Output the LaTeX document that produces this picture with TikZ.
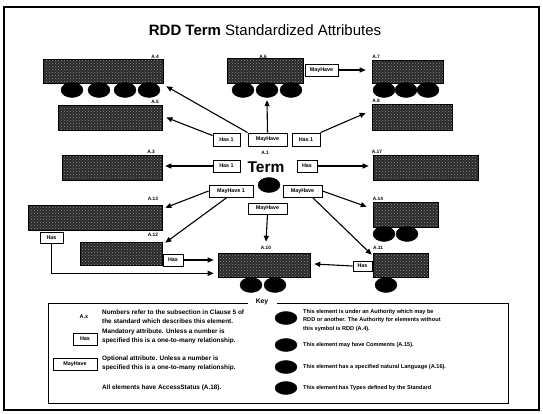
\documentclass[tikz,border=0pt]{standalone}
\usepackage{fontspec}
\setmainfont{Liberation Sans}
\usetikzlibrary{shapes.geometric,arrows.meta,calc,patterns}
\begin{document}
\begin{tikzpicture}[x=1pt,y=-1pt,
  dbox/.style={draw=black, line width=0.6pt, preaction={fill=black!84}, pattern=crosshatch dots, pattern color=black!45, inner sep=0pt},
  ell/.style={ellipse, fill=black, draw=black, inner sep=0pt, minimum width=22pt, minimum height=15pt},
  lbl/.style={draw=black, fill=white, line width=0.9pt, font=\bfseries\fontsize{5.4}{6}\selectfont, inner sep=0pt, minimum height=12pt},
  alab/.style={font=\bfseries\fontsize{4.8}{5}\selectfont, inner sep=0pt},
  arr/.style={-{Triangle[length=6pt,width=5pt]}, line width=1.1pt},
  keytxt/.style={font=\bfseries\fontsize{6.4}{9}\selectfont, inner sep=0pt, align=left, anchor=north west},
  keytxtr/.style={font=\bfseries\fontsize{5.6}{8.6}\selectfont, inner sep=0pt, align=left, anchor=north west}
]
\useasboundingbox (0,0) rectangle (543,413);
\draw[line width=1.3pt] (4,7) rectangle (539,410);

% title
\node[font=\fontsize{15}{17}\selectfont] (title) at (265,30) {\textbf{RDD Term} Standardized Attributes};

% dark element boxes
\node[dbox, minimum width=120pt, minimum height=24pt] (a4) at (103,71) {};
\node[dbox, minimum width=76pt, minimum height=25pt] (a6) at (265,70.5) {};
\node[dbox, minimum width=71pt, minimum height=23pt] (a7) at (407.5,71.5) {};
\node[dbox, minimum width=104pt, minimum height=25pt] (a5) at (110,117.5) {};
\node[dbox, minimum width=80pt, minimum height=26pt] (a8) at (412,117) {};
\node[dbox, minimum width=100pt, minimum height=25pt] (a3) at (112,167.5) {};
\node[dbox, minimum width=105pt, minimum height=25pt] (a17) at (425.5,167.5) {};
\node[dbox, minimum width=134pt, minimum height=25pt] (a13) at (95,217.5) {};
\node[dbox, minimum width=65pt, minimum height=25pt] (a14) at (405.5,214.5) {};
\node[dbox, minimum width=82pt, minimum height=23pt] (a12) at (121,253.5) {};
\node[dbox, minimum width=92pt, minimum height=24pt] (a10) at (264,265) {};
\node[dbox, minimum width=55pt, minimum height=24pt] (a11) at (400.5,265) {};

% ellipses
\node[ell] (a4e1) at (72,90) {};
\node[ell] (a4e2) at (99,90) {};
\node[ell] (a4e3) at (125,90) {};
\node[ell] (a4e4) at (149,90) {};
\node[ell] (a6e1) at (243,90) {};
\node[ell] (a6e2) at (267,90) {};
\node[ell] (a6e3) at (291,90) {};
\node[ell] (a7e1) at (384,90) {};
\node[ell] (a7e2) at (406,90) {};
\node[ell] (a7e3) at (428,90) {};
\node[ell] (a1e) at (269,185) {};
\node[ell] (a14e1) at (384,234) {};
\node[ell] (a14e2) at (407,234) {};
\node[ell] (a10e1) at (251,285) {};
\node[ell] (a10e2) at (275,285) {};
\node[ell] (a11e) at (386,285) {};

% A.x labels
\node[alab] (l4) at (155,57) {A.4};
\node[alab] (l6) at (263,57) {A.6};
\node[alab] (l7) at (376,57) {A.7};
\node[alab] (l5) at (155,102) {A.5};
\node[alab] (l8) at (376,101) {A.8};
\node[alab] (l3) at (151,152) {A.3};
\node[alab] (l1) at (265,153) {A.1};
\node[alab] (l17) at (377,152) {A.17};
\node[alab] (l13) at (153,199) {A.13};
\node[alab] (l14) at (378,199) {A.14};
\node[alab] (l12) at (153,235) {A.12};
\node[alab] (l10) at (266,248) {A.10};
\node[alab] (l11) at (378,248) {A.11};

% Term
\node[font=\bfseries\fontsize{15.5}{17}\selectfont, inner sep=0pt] (term) at (266,167) {Term};

% relation labels
\node[lbl, minimum width=27pt, minimum height=13pt] (has1a) at (226.5,139.5) {Has 1};
\node[lbl, minimum width=39pt, minimum height=13pt] (mh1) at (267.5,139.5) {MayHave};
\node[lbl, minimum width=28pt, minimum height=13pt] (has1b) at (306,139.5) {Has 1};
\node[lbl, minimum width=33pt] (mha6) at (321.5,70) {MayHave};
\node[lbl, minimum width=27pt] (has1c) at (226.5,166) {Has 1};
\node[lbl, minimum width=20pt] (hasr) at (307,166) {Has};
\node[lbl, minimum width=44pt] (mh1l) at (231,191) {MayHave 1};
\node[lbl, minimum width=39pt] (mhr) at (302.5,191) {MayHave};
\node[lbl, minimum width=39pt, minimum height=11pt] (mhc) at (267.5,208.5) {MayHave};
\node[lbl, minimum width=23pt, minimum height=11pt] (has13) at (51.5,237.5) {Has};
\node[lbl, minimum width=20pt] (has12) at (173,260) {Has};
\node[lbl, minimum width=19pt, minimum height=10pt] (has11) at (362.5,266) {Has};

% connectors
\draw[arr] (mh1.north west) -- ($(a4.south east)+(3,3)$);
\draw[arr] ($(has1a.north west)+(0,3)$) -- ($(a5.east)+(4,0)$);
\draw[arr] (mh1.north) -- ($(a6e2.south)+(0,2.5)$);
\draw[arr] (has1b.north east) -- ($(a8.west)+(-6,-4)$);
\draw[arr] (mha6.east) -- ($(a7.west)+(-6,-1.5)$);
\draw[arr] (has1c.west) -- ($(a3.east)+(3,-1.5)$);
\draw[arr] (hasr.east) -- ($(a17.west)+(-4,-1.5)$);
\draw[arr] (mh1l.west) -- ($(a13.north east)+(3,3)$);
\draw[arr] ($(mh1l.south)+(-4,0)$) -- ($(a12.north east)+(3,1)$);
\draw[arr] (mhc.south) -- ($(a10.north)+(2,-11)$);
\draw[arr] (mhr.east) -- ($(a14.north west)+(-6,5)$);
\draw[arr] ($(mhr.south)+(10,0)$) -- ($(a11.north west)+(-1,2)$);
\draw[arr] (has12.east) -- ($(has12.east -| a10.west)+(-4,0)$);
\draw[arr] (has13.south) |- ($(a10.south west)+(-4,-4)$);
\draw[arr] (has11.west) -- ($(a10.east)+(4,-1)$);

% Key
\draw[line width=0.9pt] (248,303) -- (48,303) -- (48,403) -- (508,403) -- (508,303) -- (277,303);
\node[font=\bfseries\fontsize{6.8}{7}\selectfont, inner sep=0pt] (keyt) at (262,302) {Key};

\node[alab, font=\bfseries\fontsize{5.5}{6}\selectfont] (kax) at (84,317) {A.x};
\node[keytxt] (k1) at (102,309.5) {Numbers refer to the subsection in Clause 5 of\\the standard which describes this element.};
\node[lbl, minimum width=24pt] (khas) at (85,339) {Has};
\node[keytxt] (k2) at (102,329) {Mandatory attribute. Unless a number is\\specified this is a one-to-many relationship.};
\node[lbl, minimum width=44pt] (kmh) at (75,364) {MayHave};
\node[keytxt] (k3) at (102,356) {Optional attribute. Unless a number is\\specified this is a one-to-many relationship.};
\node[keytxt] (k4) at (102,385) {All elements have AccessStatus (A.18).};

\node[ell, minimum height=13pt] (ke1) at (286,318) {};
\node[ell, minimum height=13pt] (ke2) at (286,345) {};
\node[ell, minimum height=13pt] (ke3) at (286,367) {};
\node[ell, minimum height=13pt] (ke4) at (286,388) {};
\node[keytxtr] (k5) at (303,309) {This element is under an Authority which may be\\RDD or another. The Authority for elements without\\this symbol is RDD (A.4).};
\node[keytxtr] (k6) at (303,342) {This element may have Comments (A.15).};
\node[keytxtr] (k7) at (303,364) {This element has a specified natural Language (A.16).};
\node[keytxtr] (k8) at (303,385) {This element has Types defined by the Standard};
\end{tikzpicture}
\end{document}
